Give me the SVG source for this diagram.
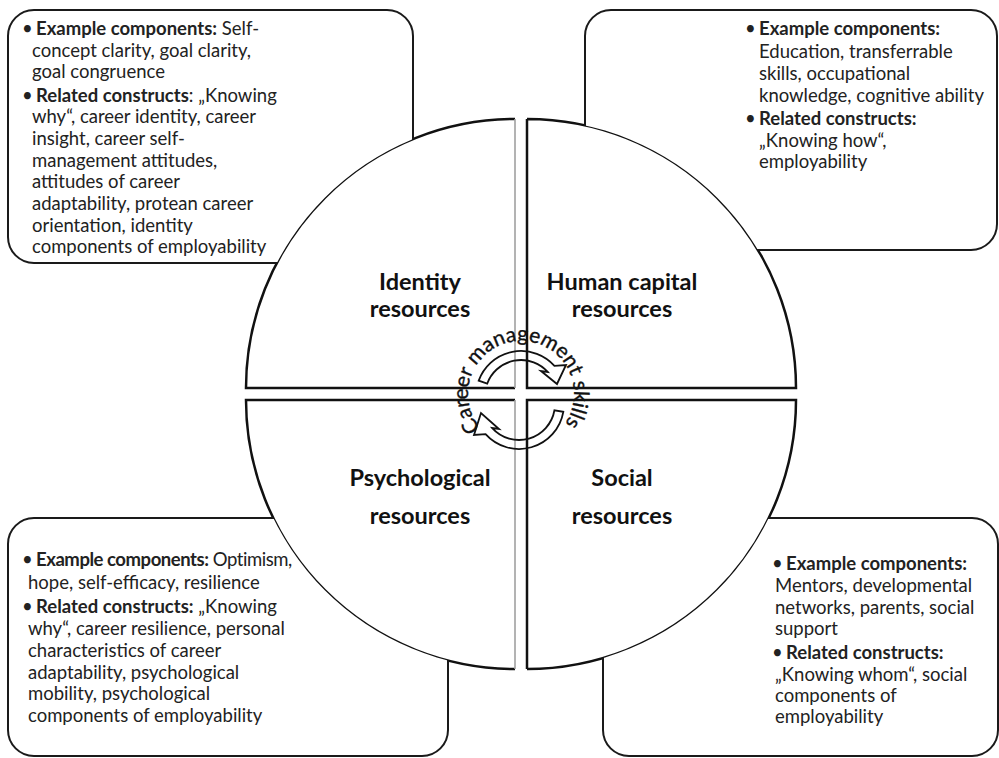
<svg xmlns="http://www.w3.org/2000/svg" width="999" height="758" viewBox="0 0 999 758">
<style>
.box{fill:#fff;stroke:#1a1a1a;stroke-width:2}
.qf{fill:#fff;stroke:none}
.qe{fill:none;stroke:#111;stroke-width:2.5}
.qg{fill:none;stroke:#a0a0a0;stroke-width:1.6}
.t{font-family:Lato,"Liberation Sans",sans-serif;font-size:18.5px;fill:#222}
.b{font-weight:bold}
.lbl{font-family:Lato,"Liberation Sans",sans-serif;font-size:23.5px;font-weight:bold;text-anchor:middle;fill:#111}
.arr{fill:none;stroke:#111;stroke-width:1.8;stroke-linejoin:miter}
.cms{font-family:Lato,"Liberation Sans",sans-serif;font-size:21px;fill:#111;stroke:#111;stroke-width:0.35}
</style>
<defs>
<path id="cmsPath" d="M 486.93 434.60 A 53 53 0 1 1 559.12 430.82"/>
<mask id="outsideCircle" maskUnits="userSpaceOnUse" x="0" y="0" width="999" height="758">
<rect x="0" y="0" width="999" height="758" fill="#fff"/>
<path fill="#000" d="M515 388 L246 388 A269 269 0 0 1 515 119 Z M527 388 L796 388 A269 269 0 0 0 527 119 Z M515 400 L246 400 A269 269 0 0 0 515 669 Z M527 400 L796 400 A269 269 0 0 1 527 669 Z"/>
</mask>
</defs>

<g id="q-identity">
<path class="qf" d="M515 388 L246 388 A269 269 0 0 1 515 119 Z"/>
<path class="qe" d="M515 388 L246 388 A269 269 0 0 1 515 119"/>
<line class="qg" x1="515" y1="119" x2="515" y2="388"/>
<text class="lbl" x="420" y="290">Identity</text>
<text class="lbl" x="420" y="317">resources</text>
</g>

<g id="q-human-capital">
<path class="qf" d="M527 388 L796 388 A269 269 0 0 0 527 119 Z"/>
<path class="qe" d="M527 119 L527 388 L796 388 A269 269 0 0 0 527 119"/>
<text class="lbl" x="622" y="290">Human capital</text>
<text class="lbl" x="622" y="317">resources</text>
</g>

<g id="q-psychological">
<path class="qf" d="M515 400 L246 400 A269 269 0 0 0 515 669 Z"/>
<path class="qe" d="M515 400 L246 400 A269 269 0 0 0 515 669"/>
<line class="qg" x1="515" y1="400" x2="515" y2="669"/>
<text class="lbl" x="420" y="486">Psychological</text>
<text class="lbl" x="420" y="524">resources</text>
</g>

<g id="q-social">
<path class="qf" d="M527 400 L796 400 A269 269 0 0 1 527 669 Z"/>
<path class="qe" d="M527 669 L527 400 L796 400 A269 269 0 0 1 527 669"/>
<text class="lbl" x="622" y="486">Social</text>
<text class="lbl" x="622" y="524">resources</text>
</g>

<g id="box-identity">
<rect class="box" x="8" y="10" width="405" height="253" rx="26" mask="url(#outsideCircle)"/>
<text class="t">
<tspan x="22" y="35">•</tspan><tspan x="36" y="35"><tspan class="b">Example components:</tspan> Self-</tspan>
<tspan x="32" y="57">concept clarity, goal clarity,</tspan>
<tspan x="32" y="78">goal congruence</tspan>
<tspan x="22" y="102">•</tspan><tspan x="36" y="102"><tspan class="b">Related constructs</tspan>: „Knowing</tspan>
<tspan x="32" y="123">why“, career identity, career</tspan>
<tspan x="32" y="145">insight, career self-</tspan>
<tspan x="32" y="167">management attitudes,</tspan>
<tspan x="32" y="188">attitudes of career</tspan>
<tspan x="32" y="210">adaptability, protean career</tspan>
<tspan x="32" y="232">orientation, identity</tspan>
<tspan x="32" y="253">components of employability</tspan>
</text>
</g>

<g id="box-human-capital">
<rect class="box" x="585" y="10" width="412" height="240" rx="26" mask="url(#outsideCircle)"/>
<text class="t">
<tspan x="745" y="35">•</tspan><tspan x="759" y="35" class="b">Example components:</tspan>
<tspan x="759" y="58">Education, transferrable</tspan>
<tspan x="759" y="80">skills, occupational</tspan>
<tspan x="759" y="102">knowledge, cognitive ability</tspan>
<tspan x="745" y="125">•</tspan><tspan x="759" y="125" class="b">Related constructs:</tspan>
<tspan x="759" y="147">„Knowing how“,</tspan>
<tspan x="759" y="168">employability</tspan>
</text>
</g>

<g id="box-psychological">
<rect class="box" x="8" y="518" width="440" height="238" rx="26" mask="url(#outsideCircle)"/>
<text class="t">
<tspan x="22" y="566">•</tspan><tspan x="36" y="566" letter-spacing="-0.45"><tspan class="b">Example components:</tspan> Optimism,</tspan>
<tspan x="28" y="589">hope, self-efficacy, resilience</tspan>
<tspan x="22" y="613">•</tspan><tspan x="36" y="613"><tspan class="b">Related constructs:</tspan> „Knowing</tspan>
<tspan x="28" y="635">why“, career resilience, personal</tspan>
<tspan x="28" y="657">characteristics of career</tspan>
<tspan x="28" y="679">adaptability, psychological</tspan>
<tspan x="28" y="700">mobility, psychological</tspan>
<tspan x="28" y="722">components of employability</tspan>
</text>
</g>

<g id="box-social">
<rect class="box" x="603" y="518" width="395" height="238" rx="26" mask="url(#outsideCircle)"/>
<text class="t">
<tspan x="772" y="570">•</tspan><tspan x="786" y="570" class="b">Example components:</tspan>
<tspan x="775" y="592">Mentors, developmental</tspan>
<tspan x="775" y="614">networks, parents, social</tspan>
<tspan x="775" y="635">support</tspan>
<tspan x="772" y="659">•</tspan><tspan x="786" y="659" class="b">Related constructs:</tspan>
<tspan x="775" y="681">„Knowing whom“, social</tspan>
<tspan x="775" y="702">components of</tspan>
<tspan x="775" y="723">employability</tspan>
</text>
</g>

<g id="connectors">
<path class="arr" d="M478.71 380.61 A45 45 0 0 1 554.44 365.89 L566 365 L557 384 L541 371 L547.75 371.91 A36 36 0 0 0 487.17 383.69 Z"/>
<path class="arr" d="M563.32 411.81 A45 45 0 0 1 485.56 434.11 L474 435 L481 413 L499 429 L492.25 428.09 A36 36 0 0 0 554.45 410.25 Z"/>
</g>

<g id="career-management-skills">
<text class="cms"><textPath href="#cmsPath" startOffset="50%" text-anchor="middle">Career management skills</textPath></text>
</g>
</svg>
